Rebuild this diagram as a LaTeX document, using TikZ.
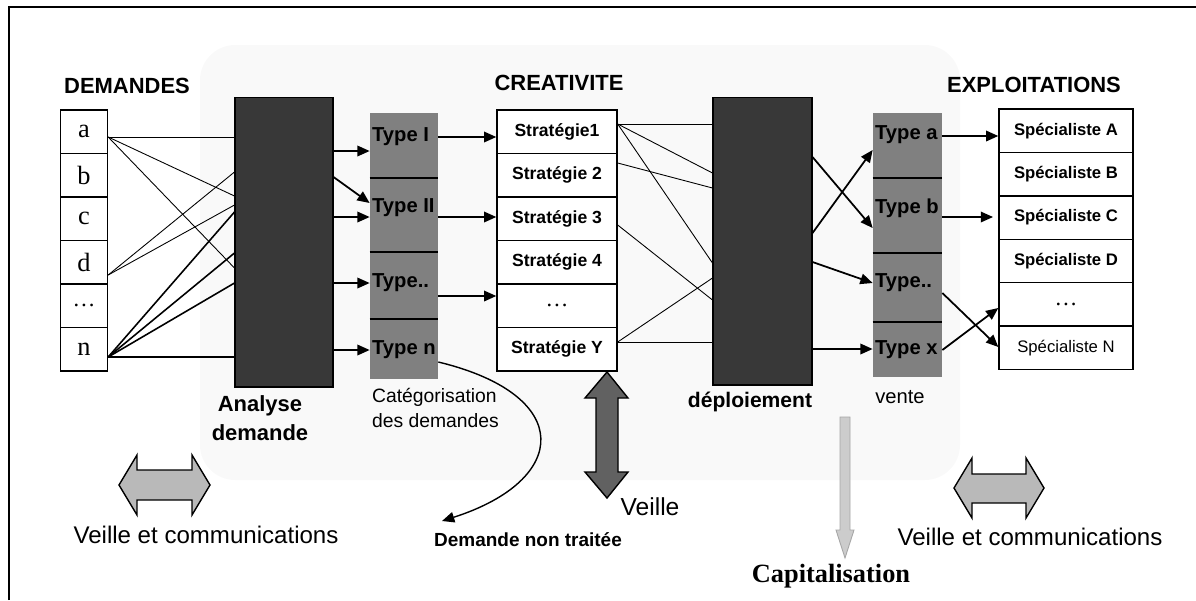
\documentclass[tikz,border=0pt]{standalone}
\usepackage{fontspec}
\setmainfont{Liberation Serif}
\setsansfont{Liberation Sans}
\usetikzlibrary{arrows.meta}

\begin{document}
\begin{tikzpicture}[x=0.02cm, y=-0.02cm,
  ttl/.style={font=\sffamily\bfseries\fontsize{12.5}{14}\selectfont, inner sep=1pt},
  lbl/.style={font=\sffamily\fontsize{11}{14.2}\selectfont, inner sep=1pt},
  blbl/.style={font=\sffamily\bfseries\fontsize{12.5}{16.5}\selectfont, inner sep=1pt},
  vlbl/.style={font=\sffamily\fontsize{13.7}{16}\selectfont, inner sep=1pt},
  dcell/.style={draw, line width=0.8pt, fill=white, minimum width=0.94cm, minimum height=0.87cm, inner sep=0pt, font=\fontsize{15}{15}\selectfont},
  scell/.style={dcell, minimum width=2.4cm, font=\sffamily\bfseries\fontsize{10}{12}\selectfont},
  ecell/.style={dcell, minimum width=2.68cm, minimum height=0.868cm, font=\sffamily\bfseries\fontsize{9.5}{12}\selectfont},
  dotcell/.style={font=\fontsize{13}{13}\selectfont},
  darkblock/.style={draw=black, line width=0.6pt, fill=black!78, inner sep=0pt},
  typecol/.style={fill=black!50, minimum width=1.36cm, inner sep=0pt},
  typelbl/.style={font=\sffamily\bfseries\fontsize{11.5}{13}\selectfont, anchor=west, inner sep=1pt},
  sepline/.style={draw=black, line width=1pt},
  thinline/.style={draw=black, line width=0.5pt},
  midline/.style={draw=black, line width=0.9pt},
  arr/.style={draw=black, line width=1pt, -{Triangle[length=7pt, width=6pt]}},
  fatarrow/.style={draw=black, line width=0.8pt, fill=gray!55}
]
\useasboundingbox (0,0) rectangle (1196,600);
\fill[gray!5, rounded corners=20pt] (200,45) rectangle (960,480);
\draw[line width=1.5pt] (9,600) -- (9,7) -- (1196,7);

\node[ttl] (tdem) at (127,86) {DEMANDES};
\node[ttl] (tcre) at (559,83) {CREATIVITE};
\node[ttl] (texp) at (1034,85) {EXPLOITATIONS};

\node[dcell] (d1) at (84,131.75) {a};
\node[dcell] (d2) at (84,175.25) {b};
\node[dcell] (d3) at (84,218.75) {c};
\node[dcell] (d4) at (84,262.25) {d};
\node[dcell, dotcell] (d5) at (84,305.75) {\dots};
\node[dcell] (d6) at (84,349.25) {n};

\node[scell] (s1) at (557,131.75) {Stratégie1};
\node[scell] (s2) at (557,175.25) {Stratégie 2};
\node[scell] (s3) at (557,218.75) {Stratégie 3};
\node[scell] (s4) at (557,262.25) {Stratégie 4};
\node[scell, dotcell] (s5) at (557,305.75) {\dots};
\node[scell] (s6) at (557,349.25) {Stratégie Y};

\node[ecell] (e1) at (1066,130.7) {Spécialiste A};
\node[ecell] (e2) at (1066,174.1) {Spécialiste B};
\node[ecell] (e3) at (1066,217.5) {Spécialiste C};
\node[ecell] (e4) at (1066,260.9) {Spécialiste D};
\node[ecell, dotcell] (e5) at (1066,304.3) {\dots};
\node[ecell, font=\sffamily\fontsize{9.5}{12}\selectfont] (e6) at (1066,347.7) {Spécialiste N};

\node[darkblock, minimum width=1.96cm, minimum height=5.8cm] (an) at (284,242) {};
\node[darkblock, minimum width=1.98cm, minimum height=5.76cm] (dp) at (762.5,241) {};
\node[typecol, minimum height=5.32cm] (tl) at (404,246) {};
\node[typecol, minimum width=1.38cm, minimum height=5.28cm] (tr) at (907.5,245) {};

\draw[sepline] (tl.west |- 0,178) -- (tl.east |- 0,178);
\draw[sepline] (tl.west |- 0,252) -- (tl.east |- 0,252);
\draw[sepline] (tl.west |- 0,319) -- (tl.east |- 0,319);
\draw[sepline] (tr.west |- 0,178) -- (tr.east |- 0,178);
\draw[sepline] (tr.west |- 0,253) -- (tr.east |- 0,253);
\draw[sepline] (tr.west |- 0,322) -- (tr.east |- 0,322);

\node[typelbl] (tI) at (370,137) {Type I};
\node[typelbl] (tII) at (370,208) {Type II};
\node[typelbl] (tdd) at (370,283) {Type..};
\node[typelbl] (tn) at (370,350) {Type n};
\node[typelbl] (ta) at (873,135) {Type a};
\node[typelbl] (tb) at (873,208) {Type b};
\node[typelbl] (tpp) at (873,283) {Type..};
\node[typelbl] (tx) at (873,350) {Type x};

\draw[thinline] (d1.east |- 0,137) -- (an.west |- 0,137);
\draw[thinline] (d1.east |- 0,137) -- (an.west |- 0,196);
\draw[thinline] (d1.east |- 0,137) -- (an.west |- 0,268);
\draw[thinline] (d4.east |- 0,275) -- (an.west |- 0,172);
\draw[thinline] (d4.east |- 0,275) -- (an.west |- 0,205);
\draw[midline] (d6.east |- 0,357) -- (an.west |- 0,357);
\draw[midline] (d6.east |- 0,357) -- (an.west |- 0,212);
\draw[midline] (d6.east |- 0,357) -- (an.west |- 0,253);
\draw[midline] (d6.east |- 0,357) -- (an.west |- 0,283);

\draw[arr] (an.east |- 0,151) -- (tl.west |- 0,151);
\draw[arr] (an.east |- 0,177) -- (tl.west |- 0,203);
\draw[arr] (an.east |- 0,217) -- (tl.west |- 0,217);
\draw[arr] (an.east |- 0,283) -- (tl.west |- 0,283);
\draw[arr] (an.east |- 0,350) -- (tl.west |- 0,350);

\draw[arr] (tl.east |- 0,137) -- (s1.west |- 0,137);
\draw[arr] (tl.east |- 0,217) -- (s3.west |- 0,217);
\draw[arr] (tl.east |- 0,296) -- (s5.west |- 0,296);

\draw[thinline] (s1.east |- 0,124) -- (dp.west |- 0,124);
\draw[thinline] (s1.east |- 0,124) -- (dp.west |- 0,173);
\draw[thinline] (s1.east |- 0,124) -- (dp.west |- 0,263);
\draw[thinline] (s2.east |- 0,163) -- (dp.west |- 0,188);
\draw[thinline] (s3.east |- 0,225) -- (dp.west |- 0,300);
\draw[thinline] (s6.east |- 0,342) -- (dp.west |- 0,278);
\draw[thinline] (s6.east |- 0,342) -- (dp.west |- 0,342);

\draw[arr] (dp.east |- 0,157) -- (tr.west |- 0,228);
\draw[arr] (dp.east |- 0,233) -- (tr.west |- 0,150);
\draw[arr] (dp.east |- 0,262) -- (tr.west |- 0,283);
\draw[arr] (dp.east |- 0,349) -- (tr.west |- 0,349);

\draw[arr] (tr.east |- 0,136) -- (e1.west |- 0,136);
\draw[arr] (tr.east |- 0,217) -- ([xshift=-3pt]e3.west |- 0,217);
\draw[arr] (tr.east |- 0,293) -- (e6.west |- 0,347);
\draw[arr] (tr.east |- 0,350) -- (e5.west |- 0,308);

\node[blbl, align=center] (lan) at (260,418) {Analyse\\demande};
\node[lbl, anchor=west, align=left] (lcat) at (370,408) {Catégorisation\\des demandes};
\node[blbl, font=\sffamily\bfseries\fontsize{12}{14}\selectfont] (ldp) at (750,402) {déploiement};
\node[lbl, font=\sffamily\fontsize{11.5}{14}\selectfont] (lve) at (900,397) {vente};

\node[blbl, font=\sffamily\bfseries\fontsize{10.8}{13}\selectfont] (dnt) at (528,540) {Demande non traitée};
\coordinate (nt) at (442,521);
\draw[arr, line width=0.8pt] (tl.east |- 0,362) .. controls (575,395) and (570,480) .. (nt);

\draw[fatarrow, fill=black!62] (607,372) -- (628,398) -- (618,398) -- (618,472) -- (628,472) -- (607,498)
  -- (585,472) -- (596,472) -- (596,398) -- (585,398) -- cycle;
\node[vlbl, font=\sffamily\fontsize{14}{16}\selectfont] (lvei) at (650,507) {Veille};

\draw[fatarrow] (119,485) -- (137,455) -- (137,470) -- (192,470) -- (192,455) -- (210,485)
  -- (192,515) -- (192,500) -- (137,500) -- (137,515) -- cycle;
\node[vlbl] (lvc1) at (206,535) {Veille et communications};

\draw[fatarrow] (954,488) -- (972,458) -- (972,474) -- (1026,474) -- (1026,458) -- (1044,488)
  -- (1026,518) -- (1026,503) -- (972,503) -- (972,518) -- cycle;
\node[vlbl] (lvc2) at (1030,537) {Veille et communications};

\draw[draw=gray!70, line width=0.5pt, fill=gray!40] (840,417) -- (850,417) -- (850,530) -- (854,530)
  -- (845,558) -- (836,530) -- (840,530) -- cycle;
\node[font=\bfseries\fontsize{15}{17}\selectfont, inner sep=1pt] (lcap) at (831,576) {Capitalisation};

\end{tikzpicture}
\end{document}
